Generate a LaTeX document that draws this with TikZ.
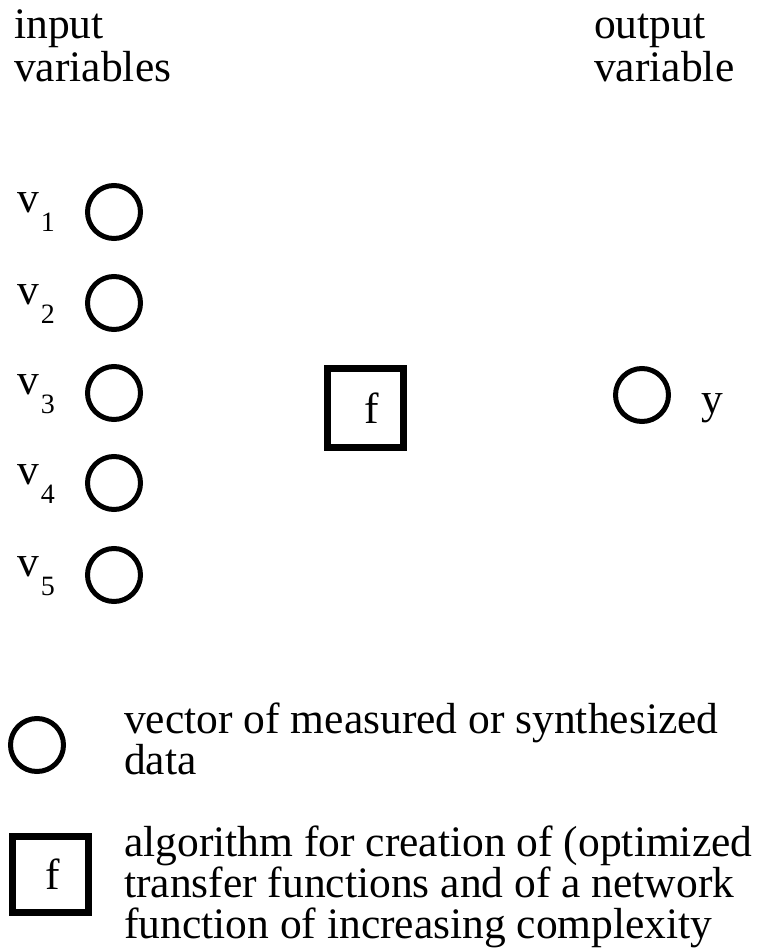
\documentclass[tikz,border=0pt]{standalone}
\usepackage{fontspec}
\setmainfont{Liberation Serif}
\begin{document}
\begin{tikzpicture}[x=1pt,y=-1pt,
  toptxt/.style={inner sep=0pt, font=\fontsize{43.5}{43}\selectfont, align=left, anchor=base west},
  legtxt/.style={inner sep=0pt, font=\fontsize{43.5}{41}\selectfont, align=left, anchor=base west},
  lbl/.style={inner sep=0pt, font=\fontsize{43.5}{43}\selectfont, anchor=base west},
  var/.style={circle, draw, line width=5pt, minimum size=53pt, inner sep=0pt},
  fbox/.style={draw, line width=7pt, minimum width=76pt, minimum height=79pt, inner sep=0pt,
    font=\fontsize{43.5}{43}\selectfont}]
\useasboundingbox (0,0) rectangle (760,949);
\fill[white] (0,0) rectangle (760,949);

% multi-line nodes: base anchor = baseline of the last line
\node[toptxt] (inlab) at (14,82) {input\\variables};
\node[toptxt] (outlab) at (594,82) {output\\variable};

\foreach \i/\yy in {1/212,2/303,3/393,4/483,5/575} {
  \node[var] (v\i) at (114,\yy) {};
  \node[lbl] (l\i) at (17,\yy+1) {v\kern2pt\raisebox{-19pt}{\fontsize{28}{28}\selectfont \i}};
}

\node[fbox] (f) at (365.5,408) {\kern12pt f};

\node[var] (out) at (642,395) {};
\node[lbl] (ylab) at (701,413) {y};

\node[var] (lc) at (37,745) {};
\node[legtxt] (lct) at (124,774) {vector of measured or synthesized\\data};

\node[fbox, minimum height=76pt] (lf) at (50.5,874.5) {\kern4pt f};
\node[legtxt] (lft) at (124,938) {algorithm for creation of (optimized\\transfer functions and of a network\\function of increasing complexity};
\end{tikzpicture}
\end{document}
